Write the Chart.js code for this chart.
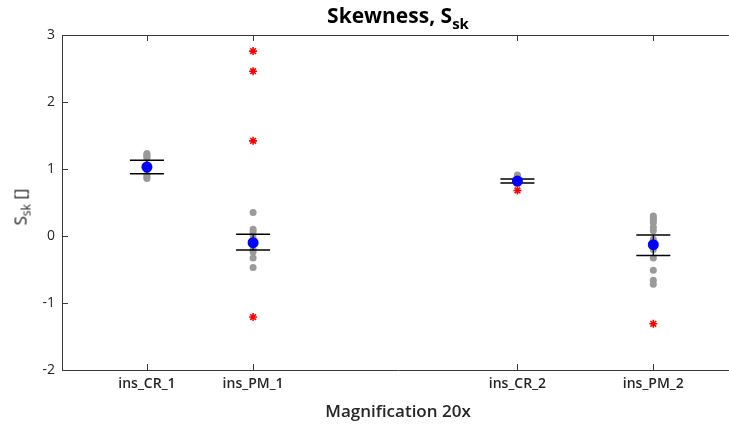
<!DOCTYPE html>
<html>
<head>
<meta charset="utf-8">
<script src="https://cdn.jsdelivr.net/npm/chart.js@4.4.1/dist/chart.umd.min.js"></script>
<style>
  html, body { margin: 0; padding: 0; background: #fff; }
  #wrap { position: relative; width: 729px; height: 425px; overflow: hidden; }
  #c { position: absolute; left: 0; top: 0; }
  #title { position: absolute; left: 0; width: 796px; top: 1px; text-align: center;
    font-family: 'Open Sans', 'Noto Sans', sans-serif; font-weight: 700; font-size: 21px; color: #000; }
  #title sub { font-size: 15px; vertical-align: -6px; line-height: 0; }
  #ylab { position: absolute; left: 20px; top: 207px; transform: translate(-50%, -50%) rotate(-90deg);
    white-space: nowrap; font-family: 'Open Sans', 'Noto Sans', sans-serif; font-size: 17px; color: #1a1a1a; }
  #ylab sub { font-size: 12px; vertical-align: -4px; line-height: 0; }
</style>
</head>
<body>
<div id="wrap">
  <canvas id="c" width="734" height="425"></canvas>
  <div id="title">Skewness, S<sub>sk</sub></div>
  <div id="ylab">S<sub>sk</sub> []</div>
</div>
<script>
// ---- data ----
const categories = ['ins_CR_1', 'ins_PM_1', 'ins_CR_2', 'ins_PM_2'];
const xPositions = [0.8, 1.8, 4.29, 5.57];
const yTicks = [-2, -1, 0, 1, 2, 3];

const pointsCR1 = [1.23, 1.21, 1.19, 1.16, 0.91, 0.88, 0.86];
const pointsPM1 = [0.35, 0.10, 0.06, 0.02, -0.05, -0.12, -0.20, -0.24, -0.33, -0.47];
const pointsCR2 = [0.91, 0.89, 0.86, 0.84, 0.82, 0.80, 0.78];
const pointsPM2 = [0.30, 0.27, 0.24, 0.20, 0.13, 0.08, -0.05, -0.20, -0.33, -0.51, -0.66, -0.72];

const outliersCR1 = [];
const outliersPM1 = [2.76, 2.46, 1.42, -1.21];
const outliersCR2 = [0.68];
const outliersPM2 = [-1.31];

const means = [1.03, -0.10, 0.82, -0.13];
const errLow = [0.93, -0.21, 0.79, -0.29];
const errHigh = [1.13, 0.025, 0.85, 0.015];

// ---- build datasets ----
const groups = [pointsCR1, pointsPM1, pointsCR2, pointsPM2];
const outGroups = [outliersCR1, outliersPM1, outliersCR2, outliersPM2];
const grayData = [];
groups.forEach((g, i) => g.forEach(v => grayData.push({x: xPositions[i], y: v})));
const redData = [];
outGroups.forEach((g, i) => g.forEach(v => redData.push({x: xPositions[i], y: v})));
const meanData = means.map((v, i) => ({x: xPositions[i], y: v}));
const capData = [];
const stemData = [];
xPositions.forEach((x, i) => {
  capData.push({x, y: errLow[i]}, {x, y: errHigh[i]});
  stemData.push({x, y: errLow[i]}, {x, y: errHigh[i]}, {x, y: null});
});

const axisColor = '#3a3a3a';
const FONT = "'Open Sans', 'Noto Sans', sans-serif";
const tickPlugin = {
  id: 'inwardTicks',
  afterDraw(chart) {
    const {ctx, chartArea: a, scales: {x, y}} = chart;
    ctx.save();
    ctx.strokeStyle = axisColor;
    ctx.lineWidth = 1;
    ctx.beginPath();
    ctx.moveTo(a.left, a.top + 0.5);
    ctx.lineTo(a.right, a.top + 0.5);
    xPositions.forEach(v => {
      const px = Math.round(x.getPixelForValue(v)) + 0.5;
      ctx.moveTo(px, a.bottom); ctx.lineTo(px, a.bottom - 6);
      ctx.moveTo(px, a.top); ctx.lineTo(px, a.top + 6);
    });
    yTicks.forEach(v => {
      const py = Math.round(y.getPixelForValue(v)) + 0.5;
      ctx.moveTo(a.left, py); ctx.lineTo(a.left + 6, py);
    });
    ctx.stroke();
    ctx.restore();
  }
};

new Chart(document.getElementById('c'), {
  type: 'scatter',
  data: {
    datasets: [
      { label: 'mean', data: meanData, pointStyle: 'circle', pointRadius: 5.5,
        backgroundColor: '#0000ff', borderColor: '#0000ff', borderWidth: 0, order: 1 },
      { label: 'outliers', data: redData, pointStyle: 'star', pointRadius: 4,
        backgroundColor: '#ff0000', borderColor: '#ff0000', borderWidth: 1.6, order: 2 },
      { label: 'caps', data: capData, pointStyle: 'line', pointRadius: 17,
        borderColor: '#000', backgroundColor: '#000', borderWidth: 1.5, order: 3 },
      { label: 'stems', type: 'line', data: stemData, showLine: true, spanGaps: false,
        pointRadius: 0, borderColor: '#000', borderWidth: 1.2, order: 4 },
      { label: 'data', data: grayData, pointStyle: 'circle', pointRadius: 3.5,
        backgroundColor: '#9a9a9a', borderColor: '#9a9a9a', borderWidth: 0, order: 5 }
    ]
  },
  options: {
    responsive: false,
    animation: false,
    devicePixelRatio: 1,
    layout: { autoPadding: false, padding: { top: 35, left: 0, right: 0, bottom: 0 } },
    plugins: { legend: { display: false }, tooltip: { enabled: false }, title: { display: false } },
    scales: {
      x: {
        type: 'linear', min: 0, max: 6.33,
        afterBuildTicks: s => { s.ticks = xPositions.map(v => ({value: v})); },
        afterFit: s => { s.height = 55; s.paddingLeft = 0; s.paddingRight = 0; },
        grid: { display: false, drawTicks: false },
        border: { display: true, color: axisColor, width: 1 },
        ticks: {
          autoSkip: false, maxRotation: 0, padding: 6, color: '#262626',
          font: { family: FONT, size: 14, weight: '600' },
          callback: (v, i) => categories[i]
        },
        title: { display: true, text: 'Magnification 20x', color: '#262626',
          font: { family: FONT, size: 17, weight: '600' },
          padding: { top: 0, bottom: 3 } }
      },
      y: {
        type: 'linear', min: -2, max: 3,
        afterBuildTicks: s => { s.ticks = yTicks.map(v => ({value: v})); },
        afterFit: s => { s.width = 62; s.paddingTop = 0; s.paddingBottom = 0; },
        grid: { display: false, drawTicks: false },
        border: { display: true, color: axisColor, width: 1 },
        ticks: { padding: 7, color: '#262626',
          font: { family: FONT, size: 14 } }
      }
    }
  },
  plugins: [tickPlugin]
});
</script>
</body>
</html>
